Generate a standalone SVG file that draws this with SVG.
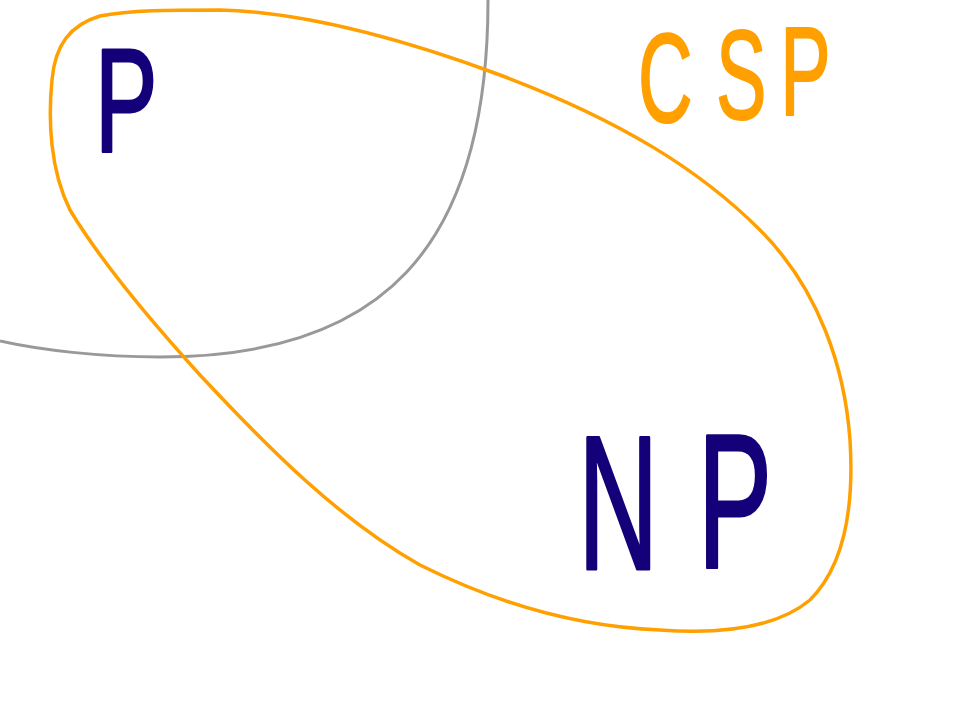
<svg xmlns="http://www.w3.org/2000/svg" width="968" height="726" viewBox="0 0 968 726">
<style>
.lbl{font-family:"Liberation Sans","DejaVu Sans",sans-serif;font-weight:normal;stroke-linejoin:round;stroke-linecap:round}
.navy{fill:#140078;stroke:#140078;stroke-width:3}
.orange{fill:#FFA000;stroke:#FFA000;stroke-width:2}
</style>
<rect width="968" height="726" fill="#ffffff"/>
<g id="connectors">
<path id="P-boundary" d="M488,0 C488,250 380,357 160,357 C100,357 40,350 0,341" fill="none" stroke="#999999" stroke-width="3"/>
<path id="CSP-boundary" d="M100,16 C130,10 170,10 220,10 C300,12 400,38 500,75 C620,120 700,170 760,230 C820,290 845,370 850,440 C855,520 840,570 810,600 C780,625 730,635 660,630 C580,627 500,605 420,565 C340,520 270,450 200,375 C150,320 100,260 70,210 C50,170 48,120 52,80 C55,45 70,25 100,16 Z" fill="none" stroke="#FFA000" stroke-width="3.5"/>
</g>
<g id="node-P">
<text class="lbl navy" font-size="146" transform="translate(95,151) scale(0.64,1)" x="0" y="0">P</text>
</g>
<g id="node-CSP">
<text class="lbl orange" font-size="126" transform="translate(638,122) scale(0.6,1)" x="0" y="0">C<tspan dx="39" dy="-3">S</tspan><tspan dx="23" dy="-4">P</tspan></text>
</g>
<g id="node-NP">
<text class="lbl navy" font-size="192" transform="translate(578,569) scale(0.58,1)" x="0" y="0">N<tspan dx="68" dy="-2">P</tspan></text>
</g>
</svg>
